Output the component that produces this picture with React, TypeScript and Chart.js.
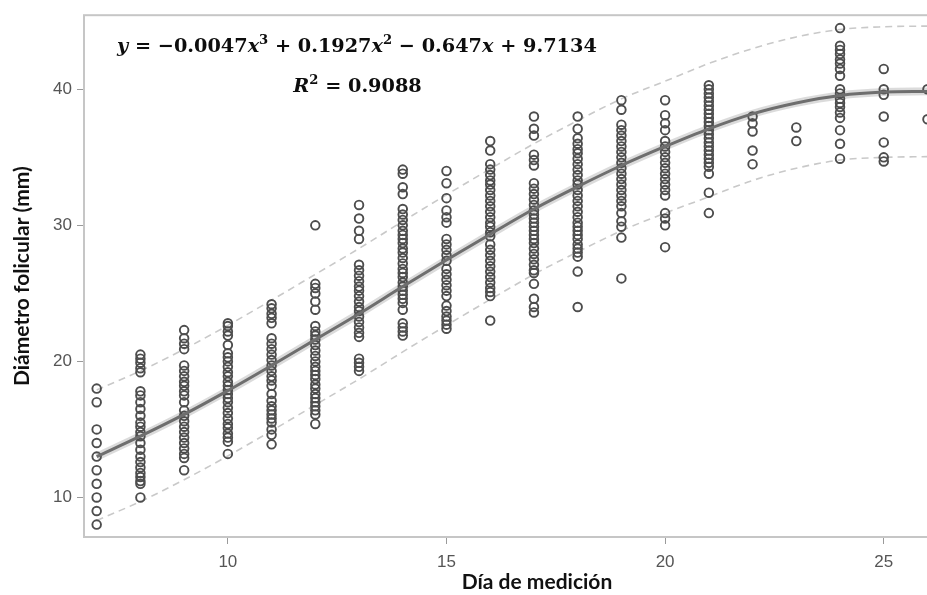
import React, { useEffect, useRef } from 'react';
import { Chart, registerables } from 'chart.js';

Chart.register(...registerables);

// ---- data ----
const days = [7, 8, 9, 10, 11, 12, 13, 14, 15, 16, 17, 18, 19, 20, 21, 22, 23, 24, 25, 26];

const d7 = [18.0, 17.0, 15.0, 14.0, 13.0, 12.0, 11.0, 10.0, 9.0, 8.0];
const d8 = [20.5, 20.2, 19.9, 19.5, 19.2, 17.8, 17.5, 17.0, 16.5, 16.0, 15.5, 15.2, 14.8, 14.5, 14.0, 13.5, 13.0, 12.6, 12.2, 11.8, 11.5, 11.2, 11.0, 10.0];
const d9 = [22.3, 21.7, 21.3, 20.9, 19.7, 19.3, 18.9, 18.5, 18.2, 17.8, 17.5, 17.0, 16.4, 16.0, 15.6, 15.2, 14.8, 14.4, 14.0, 13.6, 13.2, 12.9, 12.0];
const d10 = [22.8, 22.6, 22.2, 21.9, 21.2, 20.6, 20.3, 20.0, 19.6, 19.2, 18.9, 18.5, 18.2, 17.9, 17.6, 17.3, 17.0, 16.6, 16.2, 15.8, 15.4, 15.1, 14.7, 14.4, 14.1, 13.2];
const d11 = [24.2, 23.9, 23.5, 23.2, 22.8, 21.7, 21.3, 20.9, 20.5, 20.1, 19.7, 19.3, 18.9, 18.6, 18.2, 17.6, 17.1, 16.7, 16.4, 16.1, 15.8, 15.5, 15.0, 14.6, 13.9];
const d12 = [30.0, 25.7, 25.4, 25.0, 24.4, 23.8, 22.6, 22.2, 21.9, 21.6, 21.2, 20.8, 20.4, 20.0, 19.6, 19.3, 19.0, 18.7, 18.3, 18.0, 17.6, 17.3, 17.0, 16.7, 16.4, 16.1, 15.4];
const d13 = [31.5, 30.5, 29.6, 29.0, 27.1, 26.7, 26.3, 25.9, 25.5, 25.2, 24.8, 24.4, 24.0, 23.7, 23.3, 22.9, 22.5, 22.1, 21.8, 20.2, 19.9, 19.6, 19.3];
const d14 = [34.1, 33.8, 32.8, 32.3, 31.2, 30.8, 30.4, 30.0, 29.6, 29.3, 29.0, 28.7, 28.3, 28.0, 27.6, 27.2, 26.8, 26.5, 26.2, 25.8, 25.5, 25.2, 24.9, 24.6, 24.3, 23.8, 22.8, 22.5, 22.2, 21.9];
const d15 = [34.0, 33.1, 32.0, 31.1, 30.6, 30.2, 29.0, 28.6, 28.2, 27.8, 27.4, 26.8, 26.4, 26.0, 25.6, 25.2, 24.8, 24.1, 23.7, 23.3, 23.0, 22.7, 22.4];
const d16 = [36.2, 35.5, 34.5, 34.1, 33.7, 33.3, 33.0, 32.6, 32.2, 31.8, 31.4, 31.0, 30.6, 30.2, 29.9, 29.5, 29.2, 28.6, 28.2, 27.8, 27.4, 27.0, 26.6, 26.2, 25.8, 25.4, 25.1, 24.8, 23.0];
const d17 = [38.0, 37.1, 36.6, 35.2, 34.8, 34.4, 33.1, 32.7, 32.3, 31.9, 31.5, 31.1, 30.8, 30.5, 30.2, 29.9, 29.6, 29.3, 29.0, 28.7, 28.3, 27.9, 27.5, 27.1, 26.7, 26.5, 25.7, 24.6, 24.0, 23.6];
const d18 = [38.0, 37.1, 36.4, 36.0, 35.6, 35.3, 34.9, 34.5, 34.1, 33.7, 33.3, 33.0, 32.6, 32.2, 31.8, 31.4, 31.0, 30.6, 30.2, 29.9, 29.6, 29.3, 29.0, 28.6, 28.3, 28.0, 27.7, 26.6, 24.0];
const d19 = [39.2, 38.5, 37.4, 37.0, 36.6, 36.2, 35.8, 35.4, 35.0, 34.6, 34.2, 33.8, 33.4, 33.0, 32.6, 32.2, 31.8, 31.4, 30.9, 30.3, 29.9, 29.1, 26.1];
const d20 = [39.2, 38.1, 37.5, 37.0, 36.2, 35.8, 35.4, 35.0, 34.6, 34.2, 33.8, 33.4, 33.0, 32.6, 32.2, 30.9, 30.5, 30.0, 28.4];
const d21 = [40.3, 40.0, 39.7, 39.4, 39.1, 38.8, 38.5, 38.2, 37.9, 37.6, 37.3, 37.0, 36.7, 36.4, 36.1, 35.8, 35.5, 35.2, 34.9, 34.6, 34.3, 33.8, 32.4, 30.9];
const d22 = [38.0, 37.5, 36.9, 35.5, 34.5];
const d23 = [37.2, 36.2];
const d24 = [44.5, 43.2, 42.9, 42.6, 42.2, 41.9, 41.5, 41.0, 40.0, 39.7, 39.3, 39.0, 38.7, 38.3, 37.9, 37.0, 36.0, 34.9];
const d25 = [41.5, 40.0, 39.6, 38.0, 36.1, 35.0, 34.7];
const d26 = [40.0, 37.8];

const diameters = [d7, d8, d9, d10, d11, d12, d13, d14, d15, d16, d17, d18, d19, d20, d21, d22, d23, d24, d25, d26];

// fitted curve and prediction band, read at each day
const fitLine = [13.0, 14.5, 16.1, 17.85, 19.7, 21.6, 23.5, 25.5, 27.45, 29.35, 31.2, 32.85, 34.4, 35.8, 37.1, 38.2, 39.0, 39.55, 39.8, 39.85];
const upperBand = [17.9, 19.3, 20.9, 22.65, 24.5, 26.4, 28.3, 30.3, 32.25, 34.15, 36.0, 37.7, 39.3, 40.6, 41.9, 43.0, 43.85, 44.4, 44.6, 44.65];
const lowerBand = [8.3, 9.7, 11.3, 13.05, 14.9, 16.8, 18.7, 20.7, 22.65, 24.55, 26.4, 28.05, 29.6, 30.9, 32.1, 33.3, 34.2, 34.8, 35.0, 35.05];

const xTicks = [10, 15, 20, 25];
const yTicks = [10, 20, 30, 40];
const xTitle = 'Día de medición';
const yTitle = 'Diámetro folicular (mm)';

// equation text segments: k = 'i' italic, 'n' normal, 's' superscript
const equationSegs = [
  { t: 'y', k: 'i' }, { t: ' = −0.0047', k: 'n' }, { t: 'x', k: 'i' }, { t: '3', k: 's' },
  { t: ' + 0.1927', k: 'n' }, { t: 'x', k: 'i' }, { t: '2', k: 's' },
  { t: ' − 0.647', k: 'n' }, { t: 'x', k: 'i' }, { t: ' + 9.7134', k: 'n' },
];
const r2Segs = [{ t: 'R', k: 'i' }, { t: '2', k: 's' }, { t: ' = 0.9088', k: 'n' }];

const MATH_FONT = '"DejaVu Serif", serif';

function fontFor(k: string, size: number) {
  if (k === 'i') return `italic bold ${size}px ${MATH_FONT}`;
  if (k === 's') return `bold ${(size * 0.68).toFixed(2)}px ${MATH_FONT}`;
  return `bold ${size}px ${MATH_FONT}`;
}

function segWidth(ctx: CanvasRenderingContext2D, segs: any[], size: number) {
  let w = 0;
  for (const s of segs) {
    ctx.font = fontFor(s.k, size);
    w += ctx.measureText(s.t).width;
  }
  return w;
}

function drawSegs(ctx: CanvasRenderingContext2D, segs: any[], x: number, baseline: number, size: number) {
  let cx = x;
  for (const s of segs) {
    ctx.font = fontFor(s.k, size);
    const dy = s.k === 's' ? -size * 0.42 : 0;
    ctx.fillText(s.t, cx, baseline + dy);
    cx += ctx.measureText(s.t).width;
  }
}

const overlayPlugin = {
  id: 'overlay',
  beforeDatasetsDraw(chart: any) {
    const { ctx, chartArea: a } = chart;
    ctx.save();
    ctx.strokeStyle = '#c6c6c6';
    ctx.lineWidth = 2;
    ctx.strokeRect(a.left, a.top, a.right - a.left, a.bottom - a.top);
    ctx.restore();
  },
  afterDraw(chart: any) {
    const ctx: CanvasRenderingContext2D = chart.ctx;
    ctx.save();
    ctx.fillStyle = '#0d0d0d';
    ctx.textBaseline = 'alphabetic';
    ctx.textAlign = 'left';
    const eqLeft = 117;
    const eqRight = 597;
    const w20 = segWidth(ctx, equationSegs, 20);
    const size = (20 * (eqRight - eqLeft)) / w20;
    drawSegs(ctx, equationSegs, eqLeft, 52, size);
    const rw = segWidth(ctx, r2Segs, size);
    drawSegs(ctx, r2Segs, 357.5 - rw / 2, 92, size);
    ctx.restore();
  },
};

export default function App() {
  const ref = useRef<HTMLCanvasElement>(null);

  useEffect(() => {
    if (!ref.current) return;
    const points = days.flatMap((d, i) => diameters[i].map((v) => ({ x: d, y: v })));
    const lineData = (vals: number[]) => days.map((d, i) => ({ x: d, y: vals[i] }));

    const tickFont = { family: '"Liberation Sans", Arial, sans-serif', size: 17 };
    const titleFont = { family: 'Lato, "Liberation Sans", sans-serif', size: 21, weight: 'bold' as const };

    const chart = new Chart(ref.current, {
      type: 'scatter',
      data: {
        datasets: [
          {
            type: 'line',
            data: lineData(fitLine),
            borderColor: '#6e6e6e',
            borderWidth: 3,
            pointRadius: 0,
            fill: false,
            cubicInterpolationMode: 'monotone',
            order: 0,
          } as any,
          {
            type: 'scatter',
            data: points,
            pointStyle: 'circle',
            pointRadius: 4.3,
            pointBorderWidth: 1.9,
            pointBackgroundColor: 'rgba(0,0,0,0)',
            pointBorderColor: '#4d4d4d',
            order: 1,
          } as any,
          {
            type: 'line',
            data: lineData(fitLine),
            borderColor: 'rgba(195,195,195,0.6)',
            borderWidth: 8,
            pointRadius: 0,
            fill: false,
            cubicInterpolationMode: 'monotone',
            order: 2,
          } as any,
          {
            type: 'line',
            data: lineData(upperBand),
            borderColor: '#c9c9c9',
            borderWidth: 1.6,
            borderDash: [7, 5],
            pointRadius: 0,
            fill: false,
            cubicInterpolationMode: 'monotone',
            order: 3,
          } as any,
          {
            type: 'line',
            data: lineData(lowerBand),
            borderColor: '#c9c9c9',
            borderWidth: 1.6,
            borderDash: [7, 5],
            pointRadius: 0,
            fill: false,
            cubicInterpolationMode: 'monotone',
            order: 3,
          } as any,
        ],
      },
      options: {
        responsive: false,
        animation: false,
        layout: { padding: { top: 10, right: 10, left: 0, bottom: 0 } },
        plugins: { legend: { display: false }, tooltip: { enabled: false } },
        scales: {
          x: {
            type: 'linear',
            min: 6.71,
            max: 27.43,
            afterBuildTicks: (s: any) => {
              s.ticks = xTicks.map((v) => ({ value: v }));
            },
            afterFit: (s: any) => {
              s.height = 58;
            },
            ticks: { color: '#555555', font: tickFont, padding: 8, autoSkip: false, maxRotation: 0 },
            grid: { drawOnChartArea: false, drawTicks: true, tickLength: 7, color: '#9a9a9a' },
            border: { display: false },
            title: { display: true, text: xTitle, color: '#111111', font: titleFont, padding: { top: 0, bottom: 0 } },
          },
          y: {
            type: 'linear',
            min: 7.09,
            max: 45.45,
            afterBuildTicks: (s: any) => {
              s.ticks = yTicks.map((v) => ({ value: v }));
            },
            afterFit: (s: any) => {
              s.width = 84;
            },
            ticks: { color: '#555555', font: tickFont, padding: 5, autoSkip: false },
            grid: { drawOnChartArea: false, drawTicks: true, tickLength: 7, color: '#9a9a9a' },
            border: { display: false },
            title: { display: true, text: yTitle, color: '#111111', font: titleFont, padding: { top: 10, bottom: 0 } },
          },
        },
      },
      plugins: [overlayPlugin],
    } as any);

    return () => chart.destroy();
  }, []);

  return (
    <div style={{ position: 'fixed', left: 0, top: 0, width: 927, height: 595, overflow: 'hidden', background: '#ffffff' }}>
      <canvas ref={ref} width={1000} height={595} style={{ display: 'block' }} />
    </div>
  );
}
